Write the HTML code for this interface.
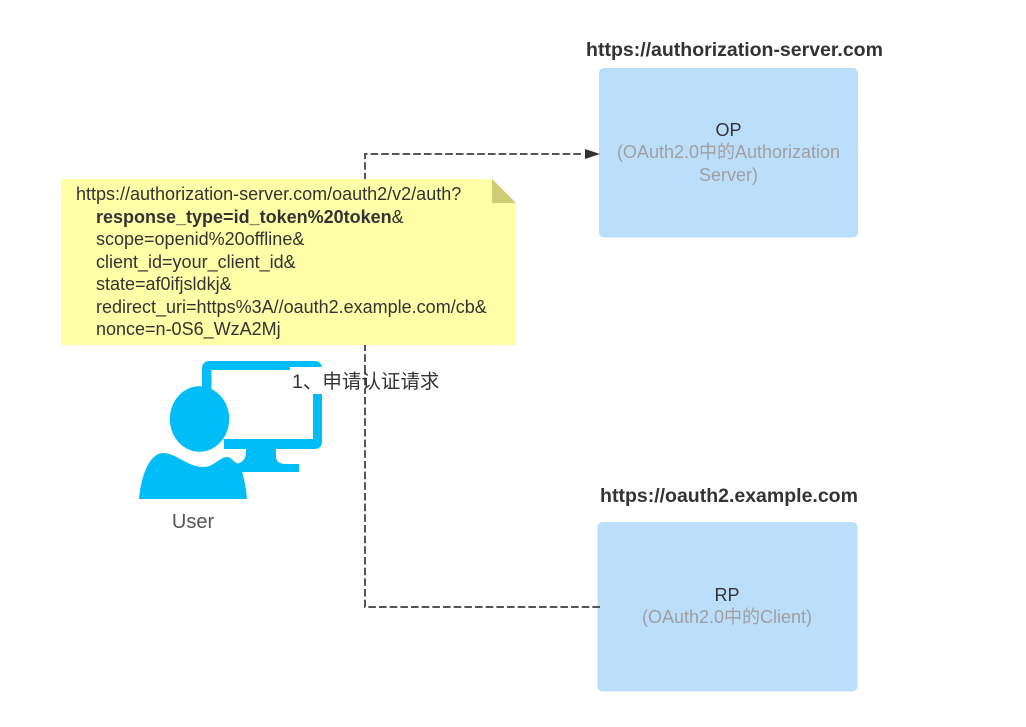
<!DOCTYPE html>
<html>
<head>
<meta charset="utf-8">
<style>
html,body{margin:0;padding:0;background:#fff;width:1026px;height:727px;overflow:hidden}
svg{display:block}
text{font-family:"Liberation Sans","Noto Sans CJK SC",sans-serif;font-size:18px;fill:#333}
.g{fill:#a09f9f}
.b{font-weight:bold}
.t{font-size:19.5px}
.m{text-anchor:middle}
</style>
</head>
<body>
<svg width="1026" height="727" viewBox="0 0 1026 727">
<rect width="1026" height="727" fill="#fff"/>
<rect x="599" y="68" width="259" height="169.5" rx="5" fill="#bbdefb"/>
<rect x="597.5" y="522" width="260" height="169.5" rx="5" fill="#bbdefb"/>
<path d="M600 607H365V154H582" fill="none" stroke="#555" stroke-width="2" stroke-dasharray="7.6 3.07"/>
<path d="M600 154L585 149V159Z" fill="#333"/>
<path d="M61 179H492L516 203V345H61Z" fill="#ffffa8"/>
<path d="M492 179L516 203H492Z" fill="#cdcd73"/>
<text x="76" y="200">https://authorization-server.com/oauth2/v2/auth?</text>
<text x="96" y="223"><tspan class="b">response_type=id_token%20token</tspan>&amp;</text>
<text x="96" y="245">scope=openid%20offline&amp;</text>
<text x="96" y="268">client_id=your_client_id&amp;</text>
<text x="96" y="290">state=af0ifjsldkj&amp;</text>
<text x="96" y="313">redirect_uri=https%3A//oauth2.example.com/cb&amp;</text>
<text x="96" y="335">nonce=n-0S6_WzA2Mj</text>
<path fill="#00bdf8" d="M210 361H314Q322 361 322 369V441Q322 449 314 449H276V456Q276 464 286 464H299V472H241L236 464Q246 462 246 452V449H224V439H313V370H211.5V395H202V369Q202 361 210 361Z"/>
<ellipse cx="199.5" cy="419" rx="29.7" ry="32.7" fill="#00bdf8"/>
<path fill="#00bdf8" d="M139 499C141 475 150 453 163 453C176 453 188 467 203 467C214 467 220 457 227 457C232 457 233 463 240 464C243 475 246 485 247 499Z"/>
<rect x="290" y="367" width="152" height="27" fill="#fff"/>
<path d="M365 367V394" stroke="#555" stroke-width="2" stroke-dasharray="7.6 3.07"/>
<text x="292" y="388" style="font-size:19.5px">1、申请认证请求</text>
<text x="193" y="528" class="m" style="fill:#555;font-size:20px">User</text>
<text x="734.5" y="56" class="m b t">https://authorization-server.com</text>
<text x="729" y="502" class="m b t">https://oauth2.example.com</text>
<text x="728.5" y="136" class="m">OP</text>
<text x="728.5" y="158" class="m g">(OAuth2.0中的Authorization</text>
<text x="728.5" y="181" class="m g">Server)</text>
<text x="727" y="601" class="m">RP</text>
<text x="727" y="623" class="m g">(OAuth2.0中的Client)</text>
</svg>
</body>
</html>
